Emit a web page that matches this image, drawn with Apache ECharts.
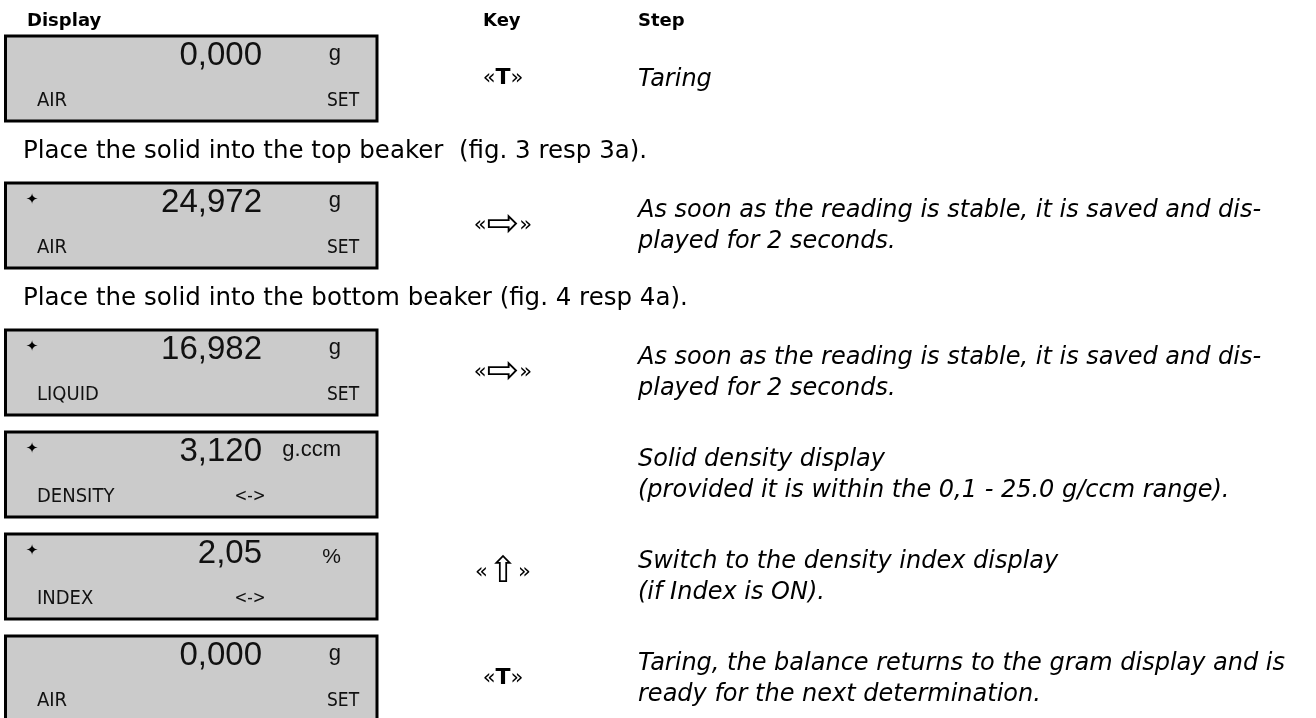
<!DOCTYPE html>
<html><head><meta charset="utf-8">
<script src="https://cdn.jsdelivr.net/npm/echarts@6/dist/echarts.min.js"></script>
<style>html,body{margin:0;padding:0;background:#fff}#c{width:1316px;height:718px}</style>
</head><body><div id="c"></div>
<script>
// ---- content ----
const headers = ['Display', 'Key', 'Step'];
const readings = ['0,000', '24,972', '16,982', '3,120', '2,05', '0,000'];
const units = ['g', 'g', 'g', 'g.ccm', '%', 'g'];
const modes = ['AIR', 'AIR', 'LIQUID', 'DENSITY', 'INDEX', 'AIR'];
const tags = ['SET', 'SET', 'SET', '<->', '<->', 'SET'];
const stable = [false, true, true, true, true, false];
const keys = ['T', '⇨', '⇨', '', '⇧', 'T'];
const steps = [
  ['Taring'],
  ['As soon as the reading is stable, it is saved and dis-', 'played for 2 seconds.'],
  ['As soon as the reading is stable, it is saved and dis-', 'played for 2 seconds.'],
  ['Solid density display', '(provided it is within the 0,1 - 25.0 g/ccm range).'],
  ['Switch to the density index display', '(if Index is ON).'],
  ['Taring, the balance returns to the gram display and is', 'ready for the next determination.']
];
const notes = ['', 'Place the solid into the top beaker  (fig. 3 resp 3a).', 'Place the solid into the bottom beaker (fig. 4 resp 4a).', '', '', ''];

// ---- layout ----
const W = 1316, H = 718;
const BOX_L = 5.5, BOX_R = 377, BOX_H = 85, GAP = 17, NOTE_GAP = 62, FIRST_TOP = 36;
const HEAD_Y = 21, KEY_X = 503, STEP_X = 638, NOTE_X = 23;
const tops = [];
{ let t = FIRST_TOP; readings.forEach((_, i) => { if (i > 0) t += BOX_H + (notes[i] ? NOTE_GAP : GAP); tops.push(t); }); }

const LCD = '"Liberation Sans"';
const LCDN = '"Liberation Sans Narrow", "DejaVu Sans Condensed", "Liberation Sans"';
const BODY = '"DejaVu Sans"';

function renderRow(params, api) {
  const i = params.dataIndex;
  const top = tops[i];
  const P = (x, y) => api.coord([x, y]);
  const a = P(BOX_L, top), b = P(BOX_R, top + BOX_H);
  const ch = [];
  ch.push({ type: 'rect', shape: { x: a[0], y: a[1], width: b[0] - a[0], height: b[1] - a[1] },
    style: { fill: '#cbcbcb', stroke: '#000', lineWidth: 3 } });
  let q;
  if (stable[i]) {
    q = P(32, top + 17);
    ch.push({ type: 'text', x: q[0], y: q[1], style: { text: '✦', fill: '#000', fontSize: 15, fontFamily: BODY, align: 'center', verticalAlign: 'middle' } });
  }
  q = P(262, top + 20);
  ch.push({ type: 'text', x: q[0], y: q[1], style: { text: readings[i], fill: '#111', fontSize: 33, fontFamily: LCD, align: 'right', verticalAlign: 'middle' } });
  const pct = units[i] === '%';
  q = P(341, top + (pct ? 23 : 18));
  ch.push({ type: 'text', x: q[0], y: q[1], style: { text: units[i], fill: '#111', fontSize: pct ? 21 : 22, fontFamily: LCD, align: 'right', verticalAlign: 'middle' } });
  q = P(37, top + 65);
  ch.push({ type: 'text', x: q[0], y: q[1], style: { text: modes[i], fill: '#111', fontSize: 20, fontFamily: LCDN, align: 'left', verticalAlign: 'middle' } });
  const centred = tags[i] === '<->';
  q = P(centred ? 250 : 327, top + 65);
  ch.push({ type: 'text', x: q[0], y: q[1], style: { text: tags[i], fill: '#111', fontSize: centred ? 17 : 19, fontFamily: LCDN, align: centred ? 'center' : 'left', verticalAlign: 'middle' } });
  // key
  if (keys[i]) {
    const isT = keys[i] === 'T', isUp = keys[i] === '⇧';
    q = P(KEY_X, top + BOX_H / 2 + (isUp ? -4 : 0));
    ch.push({ type: 'text', x: q[0], y: q[1], style: {
      text: '{g|«}{k|' + keys[i] + '}{g|»}', align: 'center', verticalAlign: 'middle',
      rich: {
        g: { fontSize: 21, fontFamily: BODY, fill: '#000', verticalAlign: 'middle' },
        k: { fontSize: isT ? 22 : (isUp ? 36 : 39), fontWeight: isT ? 'bold' : 'normal', fontFamily: BODY, fill: '#000', verticalAlign: 'middle' }
      } } });
  }
  // step
  q = P(STEP_X, top + BOX_H / 2 + 1);
  ch.push({ type: 'text', x: q[0], y: q[1], style: { text: steps[i].join('\n'), fill: '#000', fontSize: 24, fontStyle: 'italic', fontFamily: BODY, lineHeight: 31, align: 'left', verticalAlign: 'middle' } });
  return { type: 'group', children: ch };
}

function renderNote(params, api) {
  const i = params.dataIndex;
  if (!notes[i]) return null;
  const q = api.coord([NOTE_X, tops[i] - NOTE_GAP / 2]);
  return { type: 'text', x: q[0], y: q[1], style: { text: notes[i], fill: '#000', fontSize: 24.5, fontFamily: BODY, align: 'left', verticalAlign: 'middle' } };
}

const headX = [27, 483, 638];
function renderHead(params, api) {
  const i = params.dataIndex;
  const q = api.coord([headX[i], HEAD_Y]);
  return { type: 'text', x: q[0], y: q[1], style: { text: headers[i], fill: '#000', fontSize: 18, fontWeight: 'bold', fontFamily: BODY, align: 'left', verticalAlign: 'middle' } };
}

const chart = echarts.init(document.getElementById('c'));
chart.setOption({
  animation: false,
  backgroundColor: '#fff',
  grid: { left: 0, right: 0, top: 0, bottom: 0 },
  xAxis: { type: 'value', min: 0, max: W, show: false },
  yAxis: { type: 'value', min: 0, max: H, inverse: true, show: false },
  series: [
    { type: 'custom', renderItem: renderHead, data: headers.map((h, i) => [i]), silent: true },
    { type: 'custom', renderItem: renderNote, data: notes.map((n, i) => [i]), silent: true },
    { type: 'custom', renderItem: renderRow, data: readings.map((r, i) => [i]), silent: true }
  ]
});
</script>
</body></html>
